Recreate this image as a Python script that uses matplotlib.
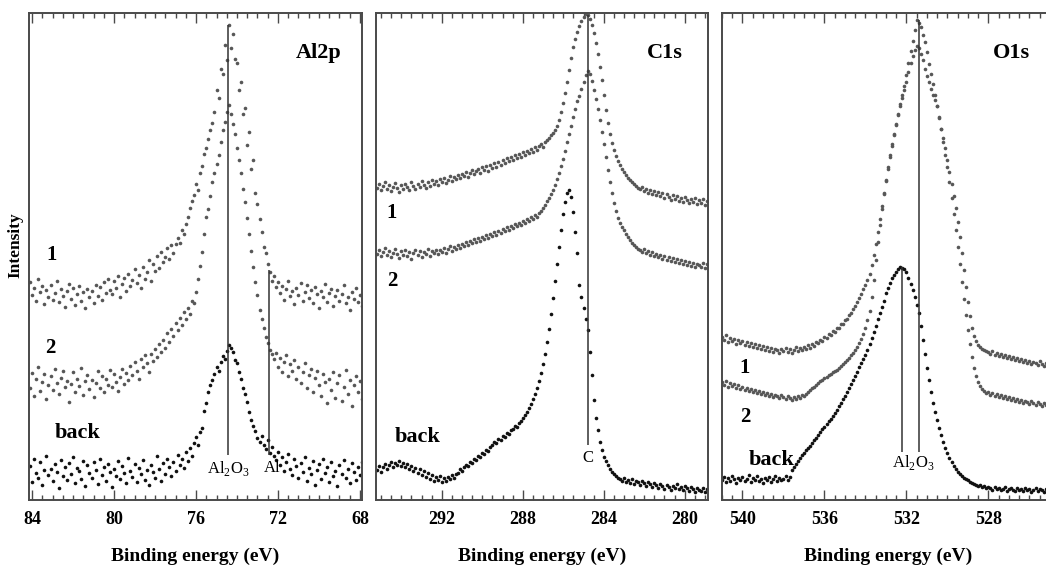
import numpy as np
import matplotlib
matplotlib.use("Agg")
import matplotlib.pyplot as plt

plt.rcParams['font.family'] = 'Liberation Serif'
plt.rcParams['mathtext.fontset'] = 'custom'
plt.rcParams['mathtext.rm'] = 'Liberation Serif'

step = 0.1  # eV per channel

# Al 2p, channels start at 84.1 eV
al_start = 84.1
al_1 = [218, 205, 212, 199, 221, 208, 214, 196, 210, 203,
        215, 200, 207, 219, 198, 211, 204, 193, 209, 216,
        201, 212, 195, 206, 214, 199, 208, 192, 211, 203,
        209, 197, 215, 204, 213, 200, 218, 207, 221, 210,
        206, 219, 212, 224, 203, 216, 222, 209, 226, 214,
        220, 231, 217, 225, 212, 233, 221, 228, 240, 219,
        236, 229, 244, 232, 248, 238, 243, 252, 241, 255,
        247, 256, 262, 257, 270, 266, 276, 283, 292, 299,
        305, 316, 310, 327, 334, 346, 352, 361, 370, 377,
        388, 410, 402, 431, 426, 455, 440, 475, 452, 466,
        441, 437, 410, 418, 386, 392, 355, 368, 331, 340,
        307, 296, 281, 268, 253, 247, 236, 228, 219, 224,
        213, 218, 207, 214, 200, 211, 219, 204, 209, 196,
        212, 205, 217, 199, 208, 215, 202, 210, 197, 213,
        206, 192, 209, 203, 216, 198, 207, 211, 194, 204,
        210, 199, 206, 215, 197, 203, 190, 208, 201, 212,
        198, 205, 194]
al_2 = [112, 127, 104, 121, 133, 109, 118, 126, 101, 115,
        124, 110, 131, 117, 106, 122, 129, 113, 119, 98,
        116, 128, 108, 121, 114, 132, 105, 119, 125, 111,
        120, 103, 117, 129, 112, 124, 108, 121, 115, 130,
        113, 126, 118, 109, 123, 131, 116, 127, 120, 134,
        125, 138, 129, 121, 141, 133, 145, 137, 128, 146,
        139, 151, 143, 156, 148, 160, 152, 167, 158, 171,
        164, 177, 170, 182, 175, 188, 181, 192, 186, 199,
        197, 208, 221, 234, 248, 266, 283, 291, 304, 318,
        327, 336, 345, 358, 370, 378, 388, 395, 386, 376,
        366, 352, 340, 327, 311, 298, 282, 266, 249, 233,
        218, 205, 190, 181, 172, 163, 157, 150, 146, 141,
        147, 133, 142, 128, 138, 145, 124, 136, 129, 140,
        121, 133, 117, 128, 137, 112, 125, 131, 108, 122,
        129, 115, 104, 126, 118, 97, 121, 110, 128, 102,
        117, 125, 99, 113, 130, 106, 120, 94, 115, 124,
        108, 119, 101]
al_back = [34, 18, 41, 27, 22, 38, 15, 30, 44, 25,
           31, 19, 36, 28, 12, 40, 24, 33, 20, 37,
           26, 43, 17, 32, 29, 21, 39, 14, 35, 27,
           22, 38, 30, 16, 41, 25, 33, 19, 36, 28,
           13, 31, 24, 39, 21, 34, 27, 17, 42, 29,
           23, 36, 18, 32, 26, 40, 20, 30, 15, 35,
           28, 22, 44, 31, 19, 37, 26, 41, 33, 24,
           38, 29, 45, 35, 41, 32, 48, 39, 52, 44,
           57, 63, 55, 68, 72, 89, 97, 108, 115, 120,
           126, 133, 129, 138, 144, 141, 149, 155, 152, 148,
           140, 137, 128, 121, 112, 106, 98, 88, 80, 74,
           69, 62, 58, 64, 55, 51, 60, 47, 53, 44,
           40, 48, 35, 43, 29, 38, 46, 31, 25, 41,
           34, 22, 37, 28, 43, 19, 32, 26, 39, 15,
           30, 36, 21, 41, 27, 33, 18, 38, 24, 29,
           14, 35, 26, 40, 22, 31, 17, 37, 28, 20,
           33, 25, 38]

# C 1s, channels start at 295.2 eV
c_start = 295.2
c_1 = [312, 316, 310, 314, 318, 311, 315, 309, 313, 317,
       312, 308, 315, 311, 316, 313, 310, 318, 314, 311,
       316, 313, 319, 315, 312, 318, 314, 320, 316, 319,
       315, 321, 318, 322, 317, 320, 324, 319, 323, 321,
       325, 322, 326, 324, 328, 323, 327, 330, 326, 329,
       331, 327, 333, 330, 334, 329, 335, 332, 337, 333,
       338, 335, 340, 337, 342, 339, 343, 340, 345, 342,
       346, 343, 348, 345, 349, 347, 351, 348, 353, 350,
       354, 356, 353, 358, 360, 362, 365, 367, 370, 374,
       380, 388, 397, 407, 418, 430, 442, 453, 461, 468,
       474, 479, 483, 486, 485, 481, 475, 467, 457, 446,
       433, 420, 405, 390, 377, 366, 357, 350, 344, 339,
       335, 331, 328, 325, 322, 320, 318, 316, 314, 312,
       311, 313, 309, 311, 307, 310, 306, 309, 305, 308,
       304, 307, 302, 306, 303, 300, 305, 301, 304, 299,
       302, 298, 303, 300, 297, 301, 298, 302, 296, 300,
       297, 301, 295, 299]
c_2 = [246, 250, 244, 248, 252, 245, 249, 243, 247, 251,
       246, 242, 249, 245, 250, 244, 248, 241, 247, 250,
       245, 249, 243, 248, 246, 251, 244, 249, 247, 250,
       246, 250, 248, 252, 247, 251, 254, 249, 253, 251,
       255, 252, 256, 254, 258, 255, 259, 257, 261, 258,
       262, 259, 263, 261, 265, 262, 266, 264, 268, 265,
       269, 267, 271, 269, 273, 270, 274, 272, 276, 274,
       277, 275, 279, 277, 281, 279, 283, 281, 285, 283,
       287, 289, 292, 295, 299, 302, 306, 310, 315, 321,
       327, 334, 341, 349, 358, 366, 374, 383, 391, 399,
       404, 411, 418, 425, 429, 426, 419, 410, 401, 391,
       380, 368, 356, 343, 330, 318, 307, 297, 289, 282,
       277, 273, 270, 266, 263, 260, 257, 255, 253, 251,
       250, 248, 251, 247, 249, 245, 248, 244, 246, 243,
       245, 241, 244, 240, 243, 239, 242, 238, 241, 237,
       240, 236, 239, 235, 238, 234, 237, 233, 236, 235,
       233, 237, 232, 236]
c_back = [30, 34, 28, 33, 36, 31, 35, 38, 33, 37,
          35, 39, 34, 37, 33, 36, 31, 34, 29, 32,
          27, 31, 25, 29, 23, 27, 21, 25, 19, 23,
          20, 24, 18, 22, 19, 23, 21, 25, 22, 26,
          27, 31, 29, 33, 35, 34, 38, 37, 41, 40,
          44, 43, 47, 46, 50, 49, 53, 55, 58, 57,
          61, 60, 64, 63, 67, 66, 70, 71, 74, 73,
          77, 79, 82, 85, 88, 92, 96, 101, 106, 112,
          119, 127, 136, 146, 158, 171, 186, 202, 219, 236,
          253, 270, 286, 298, 307, 310, 303, 288, 268, 247,
          215, 203, 192, 181, 170, 148, 125, 100, 82, 70,
          58, 50, 43, 39, 35, 31, 28, 26, 24, 22,
          21, 19, 22, 18, 20, 17, 21, 16, 19, 18,
          15, 19, 17, 14, 18, 16, 13, 17, 15, 12,
          16, 14, 11, 15, 13, 10, 14, 12, 16, 11,
          13, 10, 14, 12, 9, 13, 11, 8, 12, 10,
          9, 12, 8, 11]

# O 1s, channels start at 541.0 eV
o_start = 541.0
o_1 = [163, 160, 165, 158, 162, 159, 161, 156, 160, 157,
       159, 155, 158, 154, 157, 153, 156, 152, 155, 151,
       154, 150, 153, 149, 152, 148, 151, 150, 147, 151,
       149, 152, 148, 151, 147, 150, 153, 149, 152, 150,
       153, 151, 155, 152, 156, 154, 158, 157, 160, 159,
       163, 162, 166, 165, 169, 168, 172, 172, 176, 176,
       180, 181, 185, 187, 191, 194, 198, 202, 206, 211,
       215, 220, 226, 235, 245, 256, 268, 281, 294, 307,
       319, 331, 343, 354, 365, 375, 386, 396, 405, 414,
       425, 437, 449, 459, 470, 480, 477, 473, 465, 458,
       448, 436, 426, 416, 405, 394, 382, 371, 362, 352,
       340, 328, 316, 304, 292, 278, 263, 247, 230, 213,
       198, 184, 172, 164, 159, 155, 153, 151, 150, 149,
       148, 146, 149, 145, 147, 144, 146, 143, 145, 142,
       144, 141, 143, 140, 142, 139, 141, 138, 140, 137,
       139, 136, 138, 137, 135, 139, 136, 134, 137, 135,
       136, 133, 135]
o_2 = [118, 115, 119, 113, 117, 114, 116, 112, 115, 111,
       113, 110, 112, 109, 111, 108, 110, 107, 109, 106,
       108, 105, 107, 104, 106, 103, 105, 104, 102, 105,
       103, 101, 104, 102, 100, 103, 101, 104, 102, 105,
       104, 106, 108, 110, 112, 113, 115, 117, 119, 120,
       122, 123, 125, 126, 128, 129, 130, 132, 134, 136,
       138, 140, 142, 145, 147, 150, 153, 157, 161, 166,
       172, 180, 189, 203, 220, 240, 258, 275, 291, 306,
       320, 333, 345, 356, 366, 376, 385, 394, 402, 410,
       418, 428, 437, 444, 450, 454, 452, 446, 440, 431,
       424, 418, 411, 405, 400, 394, 383, 371, 358, 345,
       333, 318, 302, 286, 270, 253, 236, 218, 201, 185,
       170, 156, 143, 132, 124, 118, 114, 111, 109, 107,
       108, 105, 107, 104, 106, 103, 105, 102, 104, 101,
       103, 100, 102, 99, 101, 98, 100, 97, 99, 98,
       96, 99, 97, 95, 98, 96, 94, 97, 95, 93,
       96, 94, 95]
o_back = [20, 23, 18, 22, 19, 24, 21, 17, 22, 20,
          23, 19, 21, 25, 18, 22, 20, 24, 19, 21,
          17, 22, 20, 23, 18, 21, 24, 19, 22, 20,
          21, 24, 20, 23, 30, 33, 36, 39, 42, 45,
          47, 50, 52, 54, 57, 60, 62, 65, 68, 71,
          73, 76, 79, 81, 84, 87, 90, 94, 97, 101,
          104, 108, 112, 116, 120, 124, 128, 133, 137, 141,
          145, 150, 156, 162, 168, 174, 181, 187, 193, 199,
          207, 212, 217, 222, 225, 228, 231, 233, 232, 231,
          228, 222, 216, 210, 203, 195, 187, 174, 160, 146,
          132, 120, 108, 97, 88, 80, 72, 65, 58, 52,
          47, 42, 38, 34, 31, 28, 26, 24, 22, 21,
          20, 18, 17, 16, 15, 14, 15, 13, 14, 12,
          13, 12, 10, 13, 11, 12, 10, 11, 13, 9,
          11, 12, 10, 9, 12, 10, 11, 9, 12, 10,
          11, 8, 10, 12, 9, 11, 10, 8, 11, 9,
          10, 12, 9]

al_ticks = [84, 80, 76, 72, 68]
c_ticks = [292, 288, 284, 280]
o_ticks = [540, 536, 532, 528]

gray = '#575757'
black = '#111111'
frame = '#4a4a4a'


def energies(start, values):
    return start - step * np.arange(len(values))


fig = plt.figure(figsize=(10.46, 5.71), dpi=100)
W, H = 1046, 571


def make_panel(x0, x1, xlim, ticks, name, name_x=0.87):
    ax = fig.add_axes([x0 / W, (H - 500) / H, (x1 - x0) / W, 487 / H])
    ax.set_yticks([])
    ax.set_xticks(ticks)
    ax.set_xticklabels([str(t) for t in ticks], fontweight='bold', fontsize=13)
    ax.set_xticks(np.arange(ticks[-1] - 4, ticks[0] + 4.01, 0.5), minor=True)
    # limits go last, set_xticks would widen them otherwise
    ax.set_xlim(*xlim)
    ax.set_ylim(0, 487)
    ax.tick_params(axis='x', which='both', direction='in', top=True, bottom=True,
                   color=frame, width=1.0, pad=8)
    ax.tick_params(axis='x', which='major', length=7)
    ax.tick_params(axis='x', which='minor', length=3.5)
    for s in ax.spines.values():
        s.set_color(frame)
        s.set_linewidth(1.4)
    ax.set_xlabel('Binding energy (eV)', fontweight='bold', fontsize=14, labelpad=14)
    ax.text(name_x, 0.918, name, transform=ax.transAxes, ha='center', va='center',
            fontweight='bold', fontsize=16)
    return ax


def draw_dots(ax, start, values, color):
    ax.plot(energies(start, values), values, 'o', ms=2.6, color=color, mec='none')


# Al 2p
ax1 = make_panel(29, 362, (84.15, 67.9), al_ticks, 'Al2p')
draw_dots(ax1, al_start, al_1, gray)
draw_dots(ax1, al_start, al_2, gray)
draw_dots(ax1, al_start, al_back, black)
ax1.vlines(74.44, 45, 475, color='#333333', lw=1.1)
ax1.vlines(72.44, 45, 230, color='#333333', lw=1.1)
ax1.text(74.44, 32, 'Al$_2$O$_3$', ha='center', va='center', fontsize=12)
ax1.text(72.3, 32, 'Al', ha='center', va='center', fontsize=12)
ax1.text(83.03, 245, '1', ha='center', va='center', fontweight='bold', fontsize=15)
ax1.text(83.13, 152, '2', ha='center', va='center', fontweight='bold', fontsize=15)
ax1.text(81.8, 67, 'back', ha='center', va='center', fontweight='bold', fontsize=16)

# C 1s
ax2 = make_panel(376, 708, (295.25, 278.85), c_ticks, 'C1s')
draw_dots(ax2, c_start, c_1, gray)
draw_dots(ax2, c_start, c_2, gray)
draw_dots(ax2, c_start, c_back, black)
ax2.vlines(284.78, 55, 485, color='#333333', lw=1.1)
ax2.text(284.78, 42, 'C', ha='center', va='center', fontsize=12)
ax2.text(294.46, 287, '1', ha='center', va='center', fontweight='bold', fontsize=15)
ax2.text(294.46, 219, '2', ha='center', va='center', fontweight='bold', fontsize=15)
ax2.text(293.2, 63, 'back', ha='center', va='center', fontweight='bold', fontsize=16)

# O 1s, frame runs past the right edge of the figure
ax3 = make_panel(722, 1055, (541.0, 524.75), o_ticks, 'O1s', name_x=0.868)
draw_dots(ax3, o_start, o_1, gray)
draw_dots(ax3, o_start, o_2, gray)
draw_dots(ax3, o_start, o_back, black)
ax3.vlines(532.22, 48, 233, color='#333333', lw=1.1)
ax3.vlines(531.39, 48, 480, color='#333333', lw=1.1)
ax3.text(531.68, 38, 'Al$_2$O$_3$', ha='center', va='center', fontsize=12)
ax3.text(539.88, 132, '1', ha='center', va='center', fontweight='bold', fontsize=15)
ax3.text(539.88, 83, '2', ha='center', va='center', fontweight='bold', fontsize=15)
ax3.text(538.56, 40, 'back', ha='center', va='center', fontweight='bold', fontsize=16)

fig.text(15 / W, 1 - 245 / H, 'Intensity', rotation=90, ha='center', va='center',
         fontweight='bold', fontsize=12.5)

fig.savefig('out.png', dpi=100)
